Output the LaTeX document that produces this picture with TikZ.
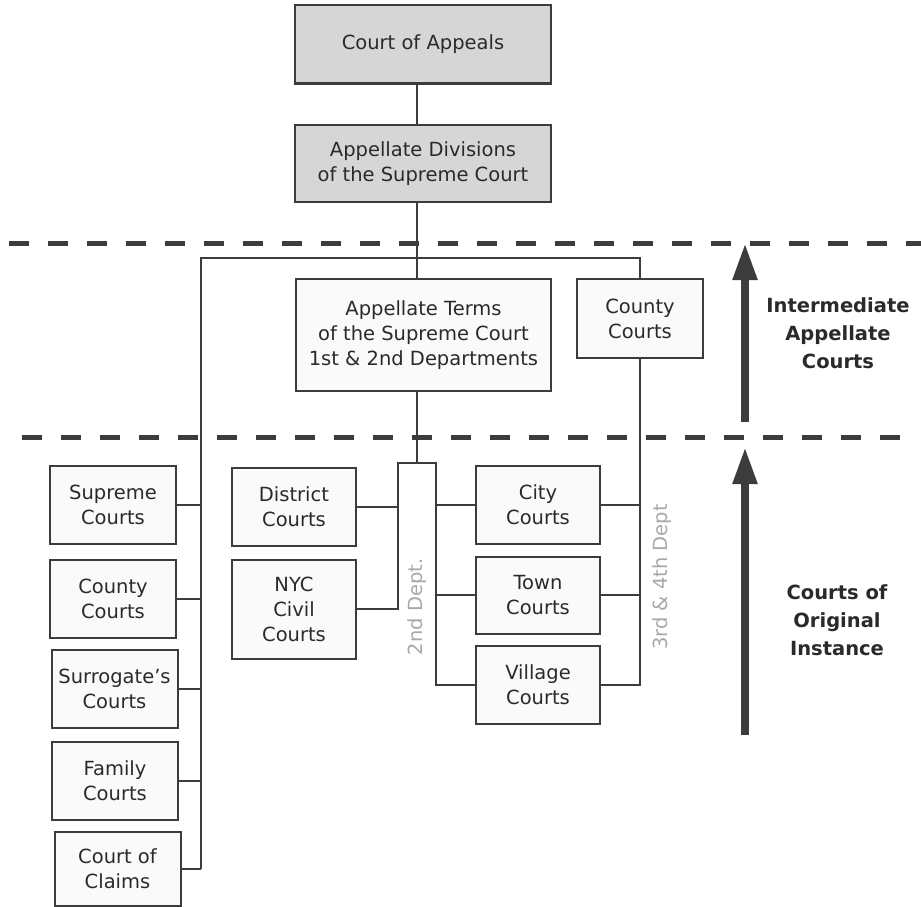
\documentclass[tikz,border=0pt]{standalone}
\usepackage{fontspec}
\setmainfont{DejaVu Sans}
\usetikzlibrary{arrows.meta}
\definecolor{boxgray}{HTML}{D6D6D6}
\definecolor{linegray}{HTML}{3C3C3C}
\definecolor{inkgray}{HTML}{2A2A2A}
\definecolor{deptgray}{HTML}{A8A8A8}

\begin{document}
\begin{tikzpicture}[x=1pt,y=-1pt,
  court/.style={draw=linegray,line width=2pt,fill=black!2,minimum width=126pt,
    minimum height=78pt,inner sep=0pt,align=center,text=inkgray,
    font=\fontsize{19.5}{25}\selectfont},
  high/.style={court,fill=boxgray,minimum width=256pt},
  link/.style={line width=2pt,draw=linegray},
  level/.style={line width=5pt,draw=linegray,dash pattern=on 20pt off 19pt},
  rise/.style={line width=8pt,draw=linegray,-{Triangle[width=23pt,length=37pt]}},
  band/.style={align=center,text=inkgray,font=\bfseries\fontsize{19.5}{28}\selectfont},
  dept/.style={rotate=90,text=deptgray,font=\fontsize{19.5}{25}\selectfont}]

\useasboundingbox (0,0) rectangle (921,907);

% level lines
\draw[level] (9,243)--(921,243);
\draw[level] (22,437)--(908,437);

% appellate courts
\node[high] (appeals) at (423,44.5) {Court of Appeals};
\node[high,minimum height=77pt] (divisions) at (423,163.5)
    {Appellate Divisions\\of the Supreme Court};
\node[court,minimum width=255pt,minimum height=112pt] (terms) at (423.5,335)
    {Appellate Terms\\of the Supreme Court\\1st \& 2nd Departments};
\node[court,minimum height=79pt] (county) at (640,318.5) {County\\Courts};

% left column
\node[court] (supreme) at (113,505) {Supreme\\Courts};
\node[court] (countyl) at (113,599) {County\\Courts};
\node[court] (surrogate) at (114.5,689) {Surrogate's\\Courts};
\node[court] (family) at (115,781) {Family\\Courts};
\node[court,minimum height=74pt] (claims) at (117.5,869) {Court of\\Claims};

% middle
\node[court,minimum width=124pt] (district) at (294,507) {District\\Courts};
\node[court,minimum width=124pt,minimum height=99pt] (nyc) at (294,609)
    {NYC\\Civil\\Courts};
\node[court,minimum width=124pt] (city) at (538,505) {City\\Courts};
\node[court,minimum width=124pt,minimum height=77pt] (town) at (538,595)
    {Town\\Courts};
\node[court,minimum width=124pt] (village) at (538,685) {Village\\Courts};

\coordinate (busl) at (201,258);
\coordinate (busr) at (640,258);
\coordinate (split) at (417,463);
\coordinate (splitl) at (398,463);
\coordinate (splitr) at (436,463);

% connectors
\draw[link] (appeals.south -| split) -- (divisions.north -| split);
\draw[link] (divisions.south -| split) -- (terms.north -| split);
\draw[link] (claims.east -| busl) -- (busl) -- (busr) -- (county.north);
\foreach \c in {supreme,countyl,surrogate,family,claims}
    \draw[link] (\c.east) -- (\c.east -| busl);
\draw[link] (county.south) -- (village.east -| county.south) -- (village.east);
\draw[link] (city.east) -- (city.east -| county.south);
\draw[link] (town.east) -- (town.east -| county.south);
\draw[link] (terms.south -| split) -- (split);
\draw[link] (nyc.east) -- (nyc.east -| splitl) -- (splitl) -- (splitr)
    -- (village.west -| splitr) -- (village.west);
\draw[link] (district.east) -- (district.east -| splitl);
\draw[link] (city.west -| splitr) -- (city.west);
\draw[link] (town.west -| splitr) -- (town.west);

\node[dept] (second) at (417,607) {2nd Dept.};
\node[dept] (others) at (662,577) {3rd \& 4th Dept};

% levels
\coordinate (upfoot) at (745,422);
\coordinate (uptip) at (745,243);
\coordinate (lowfoot) at (745,735);
\coordinate (lowtip) at (745,447);
\draw[rise] (upfoot) -- (uptip);
\draw[rise] (lowfoot) -- (lowtip);
\node[band] (intermediate) at (838,333) {Intermediate\\Appellate\\Courts};
\node[band] (original) at (837,620) {Courts of\\Original\\Instance};
\end{tikzpicture}
\end{document}
